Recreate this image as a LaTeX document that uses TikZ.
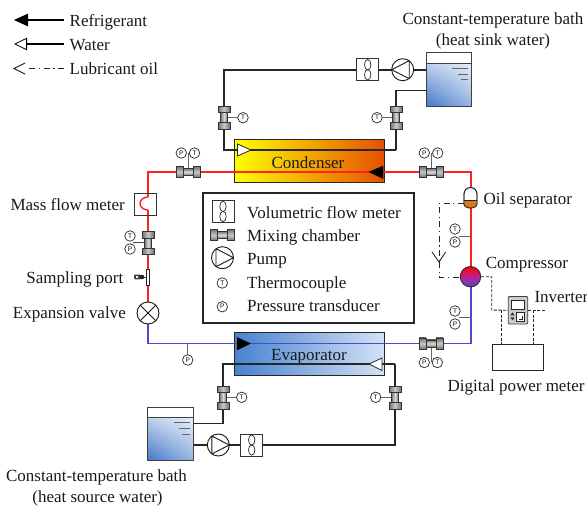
\documentclass[tikz,border=0pt]{standalone}
\usepackage{fontspec}
\setmainfont{Liberation Serif}
\newfontfamily\sensfont{Liberation Sans}
\usetikzlibrary{arrows.meta,calc,shadings}
\definecolor{refred}{HTML}{FF2222}
\definecolor{refblue}{HTML}{4A4AD2}
\definecolor{stemgray}{HTML}{666666}
\definecolor{wblue}{HTML}{4278C8}
\definecolor{evapl}{HTML}{4882D0}
\definecolor{evapr}{HTML}{D4E2F6}
\definecolor{compmid}{HTML}{C02090}
\definecolor{oilor}{HTML}{E07810}
\definecolor{capdark}{HTML}{707070}
\definecolor{caplight}{HTML}{C8C8C8}
\definecolor{tubelight}{HTML}{DADADA}
\tikzset{
  x=1pt,y=-1pt,
  lab/.style={font=\fontsize{17}{20}\selectfont,inner sep=0pt,text=black!90,yshift=-3.4pt},
  labw/.style={lab,anchor=mid west},
  labe/.style={lab,anchor=mid east},
  labc/.style={lab,anchor=mid},
  water/.style={draw=black!85,line width=1.3pt},
  redp/.style={draw=refred,line width=1.4pt},
  bluep/.style={draw=refblue,line width=1.4pt},
  stem/.style={draw=stemgray,line width=0.9pt},
  oil/.style={draw=black!85,line width=1pt,dash pattern=on 6pt off 3.5pt on 1.3pt off 3.5pt},
  elec/.style={draw=black!85,line width=0.9pt,dash pattern=on 3pt off 1.6pt},
  sens/.style={circle,draw=black!85,fill=white,line width=0.7pt,minimum size=10.5pt,inner sep=0pt,font=\sensfont\fontsize{6.5}{7}\selectfont},
  pumpc/.style={circle,draw=black!90,fill=white,line width=0.9pt,minimum size=22pt,inner sep=0pt},
  fanbox/.style={rectangle,draw=black!80,fill=white,line width=0.8pt,minimum size=22pt,inner sep=0pt},
  tip/.style={fill=black,draw=black},
  wtip/.style={fill=white,draw=black!85,line width=0.8pt},
  plainbox/.style={rectangle,draw=black!85,fill=white,line width=0.9pt,inner sep=0pt},
  mixpart/.style={draw=black!80,line width=0.6pt}
}
\newcommand{\MixV}[3]{% name,x,y
  \coordinate (#1) at (#2,#3);
  \shade[left color=capdark,right color=capdark,middle color=tubelight,mixpart] (#2-3.7,#3-6) rectangle (#2+3.7,#3+6);
  \shade[left color=capdark,right color=capdark,middle color=caplight,mixpart] (#2-6,#3-11.5) rectangle (#2+6,#3-5.2);
  \shade[left color=capdark,right color=capdark,middle color=caplight,mixpart] (#2-6,#3+5.2) rectangle (#2+6,#3+11.5);}
\newcommand{\MixH}[3]{%
  \coordinate (#1) at (#2,#3);
  \shade[top color=capdark,bottom color=capdark,middle color=tubelight,mixpart] (#2-6,#3-3.7) rectangle (#2+6,#3+3.7);
  \shade[top color=capdark,bottom color=capdark,middle color=caplight,mixpart] (#2-12,#3-5.7) rectangle (#2-5.2,#3+5.7);
  \shade[top color=capdark,bottom color=capdark,middle color=caplight,mixpart] (#2+5.2,#3-5.7) rectangle (#2+12,#3+5.7);}
\newcommand{\PumpR}[3]{%
  \node[pumpc] (#1) at (#2,#3) {};
  \draw[black!90,line width=0.9pt,line join=round] (#2+11,#3) -- (#2-6.5,#3-9) -- (#2-6.5,#3+9) -- cycle;}
\newcommand{\PumpL}[3]{%
  \node[pumpc] (#1) at (#2,#3) {};
  \draw[black!90,line width=0.9pt,line join=round] (#2-11,#3) -- (#2+6.5,#3-9) -- (#2+6.5,#3+9) -- cycle;}
\newcommand{\FanB}[3]{%
  \node[fanbox] (#1) at (#2,#3) {};
  \draw[black!85,line width=0.7pt] (#2,#3-5) ellipse [x radius=3.2pt,y radius=5.2pt];
  \draw[black!85,line width=0.7pt] (#2,#3+5) ellipse [x radius=3.2pt,y radius=5.2pt];}
\newcommand{\TankB}[6]{% name, x1,y1(top),x2,y2(bottom), ylevel
  \coordinate (#1) at (#2,#3);
  \fill[white] (#2,#3) rectangle (#4,#6);
  \shade[shading=bilinear interpolation,lower left=wblue,upper left=wblue!35!white,lower right=wblue!55!white,upper right=wblue!12!white] (#2,#6) rectangle (#4,#5);
  \draw[black!75,line width=1pt] (#2,#3) rectangle (#4,#5);
  \draw[black!75,line width=1pt] (#2,#6) -- (#4,#6);}
\begin{document}
\begin{tikzpicture}
\useasboundingbox (0,0) rectangle (587,507);
% heat exchangers
\node[rectangle,draw=black!85,line width=0.9pt,minimum width=150pt,minimum height=42.5pt,inner sep=0pt,left color=yellow,right color=orange!70!red!90!black] (cond) at (309,161) {};
\node[rectangle,draw=black!85,line width=0.9pt,minimum width=150.5pt,minimum height=42.5pt,inner sep=0pt,left color=evapl,right color=evapr] (evap) at (309.3,354) {};
\node[labc] (condlab) at (308,162.5) {Condenser};
\node[labc] (evaplab) at (309,355) {Evaporator};
% junction coordinates
\coordinate (tl) at (148,172);
\coordinate (tr) at (471,172);
\coordinate (bl) at (148,343.5);
\coordinate (br) at (471,343.5);
\coordinate (mfmtop) at (148,197);
\coordinate (mfmbot) at (148,210);
\coordinate (oilA) at (439,203.3);
\coordinate (oilB) at (439,277);
\coordinate (oilT) at (439,262);
\coordinate (cw1) at (224,150);
\coordinate (cw2) at (224,70);
\coordinate (cw3) at (396,150);
\coordinate (cw4) at (396,90.5);
\coordinate (ew1) at (223,364);
\coordinate (ew2) at (223,423.7);
\coordinate (ew3) at (395,364);
\coordinate (ew4) at (395,445);
% refrigerant pipes
\draw[redp] (mfmbot) -- (148,302);
\draw[redp] (mfmtop) -- (tl) -- (tr) -- (471,267);
\draw[bluep] (148,324) -- (bl) -- (br) -- (471,277);
% water pipes
\draw[water] (cw3) -- (cw1) -- (cw2) -- (360,70);
\draw[water] (378,70) -- (392,70);
\draw[water] (414,70) -- (426,70);
\draw[water] (cw3) -- (cw4) -- (426,90.5);
\draw[water] (ew3) -- (ew1) -- (ew2) -- (193,423.7);
\draw[water] (ew3) -- (ew4) -- (262,445);
\draw[water] (241,445) -- (229,445);
\draw[water] (207,445) -- (193,445);
% direction arrows in exchangers
\draw[wtip] (237.5,144) -- (251,150) -- (237.5,156) -- cycle;
\fill[tip] (383,166) -- (369,172) -- (383,178.5) -- cycle;
\fill[tip] (237,337.5) -- (250.5,343.5) -- (237,350) -- cycle;
\draw[wtip] (382,358) -- (369,364) -- (382,370.5) -- cycle;
% sensor stems
\draw[stem] (188,172) -- (188,153);
\draw[stem] (431,172) -- (431,153);
\draw[stem] (431,343.5) -- (431,362);
\draw[stem] (187.7,343.5) -- (187.7,355);
\draw[black!70,line width=0.7pt] (148,242.5) -- (133,242.5);
\draw[stem] (471,236) -- (459,236);
\draw[stem] (471,317.5) -- (459,317.5);
\draw[stem] (224,117.5) -- (248,117.5);
\draw[stem] (396,117.5) -- (372,117.5);
\draw[stem] (223,397.5) -- (247,397.5);
\draw[stem] (395,397.5) -- (371,397.5);
% mixing chambers
\MixH{mA}{188}{172}
\MixH{mB}{431}{172}
\MixH{mC}{431}{343.5}
\MixV{mD}{148}{243}
\MixV{mE}{224}{117.5}
\MixV{mF}{396}{117.5}
\MixV{mG}{223}{397.5}
\MixV{mH}{395}{397.5}
% sensors
\node[sens] (s1) at (181.3,153) {P};
\node[sens] (s2) at (194.5,153) {T};
\node[sens] (s3) at (424.3,153) {P};
\node[sens] (s4) at (437.7,153) {T};
\node[sens] (s5) at (424.3,362.5) {P};
\node[sens] (s6) at (437.3,362.5) {T};
\node[sens] (s7) at (187.7,360) {P};
\node[sens] (s8) at (130,236) {T};
\node[sens] (s9) at (130,249) {P};
\node[sens] (s10) at (455,229) {T};
\node[sens] (s11) at (455,242) {P};
\node[sens] (s12) at (455,311) {T};
\node[sens] (s13) at (455,324) {P};
\node[sens] (s14) at (243,117.7) {T};
\node[sens] (s15) at (377,117.7) {T};
\node[sens] (s16) at (241.7,397.3) {T};
\node[sens] (s17) at (375.7,397.3) {T};
% mass flow meter
\node[plainbox,fill=none,draw=black!80,minimum size=22pt] (mfm) at (145.5,204) {};
\draw[refred,line width=1.4pt] (mfmtop) arc[start angle=90,end angle=270,x radius=8pt,y radius=6.5pt];
% sampling port
\node[plainbox,minimum width=3.6pt,minimum height=16pt] (sport) at (148,277) {};
\draw[black!70,line width=1pt] (sport.west) -- (140,277);
\fill[black!75,rounded corners=1pt] (134,274.7) rectangle (141,279.3);
\fill[white] (136,276.2) rectangle (138,277.8);
\fill[black!85] (142,277) circle (2.3pt);
% expansion valve
\node[circle,draw=black!90,fill=white,line width=0.9pt,minimum size=22pt,inner sep=0pt] (ev) at (148,313) {};
\draw[black!90,line width=0.9pt] (ev.north west) -- (ev.south east) (ev.north east) -- (ev.south west);
% oil separator
\draw[black!85,fill=white,line width=0.8pt] (464,194) arc[start angle=180,end angle=0,radius=6.5pt] -- (477,204) arc[start angle=0,end angle=-180,x radius=6.5pt,y radius=4pt] -- cycle;
\fill[oilor] (464.4,200.8) -- (476.6,200.8) -- (476.6,204) arc[start angle=0,end angle=-180,x radius=6.1pt,y radius=3.6pt] -- cycle;
\draw[black!85,line width=0.8pt] (464,194) arc[start angle=180,end angle=0,radius=6.5pt] -- (477,204) arc[start angle=0,end angle=-180,x radius=6.5pt,y radius=4pt] -- cycle;
\draw[black!85,line width=0.8pt] (464,200.8) -- (477,200.8);
\node[inner sep=0pt,minimum size=0pt] (oilsep) at (464,203.3) {};
% oil line
\draw[oil] (oilsep) -- (oilA) -- (oilT);
\draw[oil] (oilT) -- (oilB) -- (461,277);
\draw[black!85,line width=0.9pt] (432,252) -- (oilT) -- (445.7,252);
% compressor
\node[circle,draw=black!85,line width=0.8pt,minimum size=20.5pt,inner sep=0pt,top color=red,bottom color=refblue,middle color=compmid] (comp) at (470.5,276.7) {};
% electrical
\coordinate (e1) at (491.7,276.7);
\coordinate (e2) at (491.7,310);
\node[rectangle,draw=black!75,fill=black!20,line width=0.8pt,rounded corners=1pt,minimum width=19.5pt,minimum height=27.5pt,inner sep=0pt] (inv) at (518,310.3) {};
\draw[elec] (comp.east) -- (e1) -- (e2) -- (inv.west);
\coordinate (e3) at (545.7,310);
\draw[elec] (inv.east |- e3) -- (e3);
\node[rectangle,draw=black!85,fill=white,line width=0.8pt,minimum width=51pt,minimum height=26.3pt,inner sep=0pt] (dpm) at (518.2,357.2) {};
\coordinate (e4) at (501.7,310);
\coordinate (e5) at (533.7,310);
\draw[elec] (e4) -- (e4 |- dpm.north);
\draw[elec] (e5) -- (e5 |- dpm.north);
\draw[black!85,fill=white,line width=0.6pt] (510.8,300) rectangle (524.7,309.3);
\draw[black!85,fill=white,line width=0.7pt] (516.7,312.8) rectangle (524.7,321.7);
\draw[black!85,line width=0.7pt] (519,319.5) -- (522.5,319.5) -- (522.5,315.5);
\fill[black!80] (510.3,315.3) -- (512.5,312.3) -- (514.7,315.3) -- cycle;
\fill[black!80] (510.3,317.3) -- (512.5,320.3) -- (514.7,317.3) -- cycle;
% pumps, flow meters, tanks
\FanB{fanT}{367.7}{69.7}
\PumpL{pumpT}{402.7}{69.7}
\TankB{tankT}{426}{52.3}{471}{106}{63}
\draw[stemgray,line width=0.9pt] (452,68) -- (468,68) (458,74) -- (468,74) (460.5,79.3) -- (468,79.3);
\FanB{fanB}{251.7}{445}
\PumpR{pumpB}{218.3}{445}
\TankB{tankB}{147.7}{407.3}{193.3}{460.7}{417.7}
\draw[stemgray,line width=0.9pt] (174,422.7) -- (190,422.7) (179,428) -- (190,428) (182,434) -- (190,434);
% legend box
\node[rectangle,draw=black!85,fill=white,line width=1.8pt,minimum width=211pt,minimum height=130.5pt,inner sep=0pt] (legend) at (308.5,258) {};
\FanB{lf}{223}{211.5}
\MixH{lm}{222}{235}
\PumpR{lp}{222.5}{257.7}
\node[sens] (lt) at (222.3,283) {T};
\node[sens] (lq) at (222.3,306.7) {P};
\node[labw] (l1) at (247,212.5) {Volumetric flow meter};
\node[labw] (l2) at (247,235.7) {Mixing chamber};
\node[labw] (l3) at (247,259) {Pump};
\node[labw] (l4) at (247,282.5) {Thermocouple};
\node[labw] (l5) at (247,306) {Pressure transducer};
% top-left key
\coordinate (k1) at (64,20);
\coordinate (k1e) at (14,20);
\coordinate (k2) at (64,44);
\coordinate (k2e) at (14,44);
\coordinate (k3) at (64,68.5);
\coordinate (k3e) at (14,68.5);
\draw[black,line width=1.1pt,-{Triangle[length=14pt,width=12.5pt]}] (k1) -- (k1e);
\draw[black,line width=1.1pt,-{Triangle[open,fill=white,length=13pt,width=12.5pt,line width=0.8pt]}] (k2) -- (k2e);
\draw[oil] (k3) -- (26,68.5);
\draw[black!90,line width=0.9pt] (25,63) -- (k3e) -- (25,74);
\node[labw] (kt1) at (69.5,20.5) {Refrigerant};
\node[labw] (kt2) at (69.5,44.5) {Water};
\node[labw] (kt3) at (69.5,68.5) {Lubricant oil};
% labels
\node[labc] (b1) at (493,18.5) {Constant-temperature bath};
\node[labc] (b2) at (493,39.5) {(heat sink water)};
\node[labc] (b3) at (96.5,476) {Constant-temperature bath};
\node[labc] (b4) at (97.5,496.5) {(heat source water)};
\node[labe] (t1) at (125,204.3) {Mass flow meter};
\node[labe] (t2) at (123.5,278) {Sampling port};
\node[labe] (t3) at (126,312.7) {Expansion valve};
\node[labw] (t4) at (483.5,199) {Oil separator};
\node[labw] (t5) at (485.7,262.7) {Compressor};
\node[labw] (t6) at (534.3,297) {Inverter};
\node[labc] (t7) at (516,386) {Digital power meter};
\end{tikzpicture}
\end{document}
